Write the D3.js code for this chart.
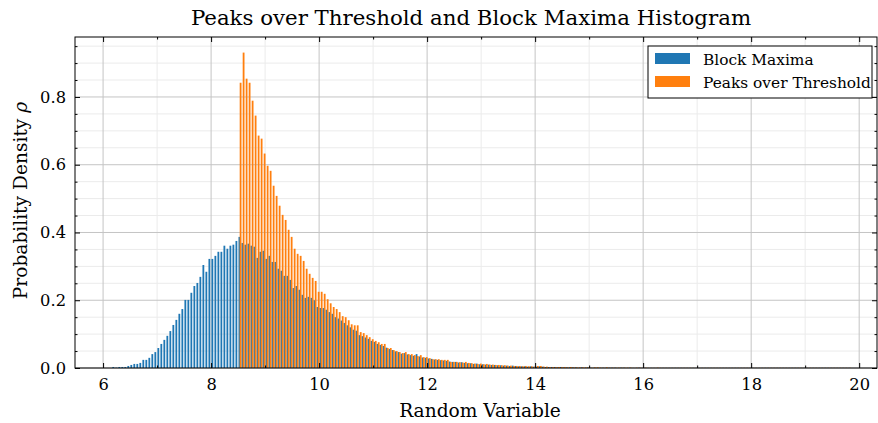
<!doctype html>
<html lang="en">
<head>
  <meta charset="utf-8">
  <title>Peaks over Threshold and Block Maxima Histogram</title>
  <script src="https://cdnjs.cloudflare.com/ajax/libs/d3/7.8.5/d3.min.js"></script>
  <style>
    body { margin: 0; background: #fff; }
    text { font-family: "DejaVu Serif", serif; fill: #000; }
  </style>
</head>
<body>
  <div id="my_dataviz"></div>
  <script>

// shared histogram bins
var binStart = 6.172, binWidth = 0.0556;
var potFirstBin = 42;

// block maxima densities, one per bin starting at binStart
var blockMaxima = [
  0.003, 0.001, 0.003, 0.003, 0.003, 0.006, 0.009, 0.012, 0.012, 0.015,
  0.024, 0.024, 0.030, 0.041, 0.047, 0.059, 0.071, 0.083, 0.095, 0.109,
  0.127, 0.142, 0.160, 0.174, 0.201, 0.201, 0.222, 0.242, 0.251, 0.269,
  0.304, 0.284, 0.322, 0.322, 0.331, 0.343, 0.343, 0.361, 0.352, 0.361,
  0.364, 0.375, 0.387,
  0.369, 0.364, 0.367, 0.361, 0.358, 0.325, 0.343, 0.346, 0.322, 0.331,
  0.313, 0.313, 0.293, 0.287, 0.272, 0.272, 0.260, 0.236, 0.242, 0.231,
  0.216, 0.207, 0.210, 0.207, 0.200, 0.180, 0.177, 0.177,
  0.172, 0.165, 0.160, 0.150, 0.146, 0.140, 0.133, 0.126, 0.120, 0.113,
  0.110, 0.097, 0.094, 0.090, 0.086, 0.080, 0.077, 0.071, 0.068, 0.065,
  0.060, 0.056, 0.053, 0.049, 0.047, 0.042, 0.044, 0.040, 0.038, 0.036,
  0.041, 0.034, 0.031, 0.030, 0.028, 0.027, 0.025, 0.024, 0.023, 0.022,
  0.021, 0.019, 0.018, 0.018,
  0.016, 0.017, 0.015, 0.014, 0.014, 0.012, 0.013, 0.011, 0.011, 0.010, 0.010,
  0.009, 0.009, 0.008, 0.008, 0.007, 0.007, 0.006, 0.007, 0.006, 0.005, 0.005, 0.005, 0.004, 0.005,
  0.004, 0.004, 0.005, 0.004, 0.003, 0.003, 0.003, 0.003, 0.002, 0.003,
  0.002, 0.002, 0.002, 0.002, 0.002, 0.001, 0.002, 0.001, 0.002, 0.001,
  0.001, 0.001, 0.001, 0.001, 0.001, 0.001, 0.001, 0.001, 0.0005, 0.001,
  0.001, 0.0005, 0.001, 0.0005, 0.0005, 0.001, 0.0005, 0.0005, 0.0005, 0.0005,
  0.0005, 0.0005, 0.0005, 0.0005, 0.0005, 0.0005, 0.0005, 0.0005, 0.0005, 0.0005,
  0.0005, 0.0005, 0.0005, 0.0005, 0.0005, 0.0005, 0.0005, 0.0005, 0.0005, 0.0005,
  0.0005, 0.0005, 0.0005, 0.0005, 0.0005, 0.0005, 0.0005, 0.0005, 0.0005, 0.0005,
  0.0005, 0.0005, 0.0005, 0.0005, 0.0005, 0.0005, 0.0005, 0.0005, 0.0005, 0.0005,
  0.0005, 0.0005, 0.0005, 0.0005, 0.0005, 0.0005, 0.0005, 0.0005, 0.0005, 0.0005,
  0.0005, 0.0005, 0.0005, 0.0005, 0.0005, 0.0005, 0.0005, 0.0005, 0.0005, 0.0005,
  0.0005, 0.0005, 0.0005, 0.0005, 0.0005, 0.0005
];

// peaks over threshold densities, one per bin starting at potFirstBin
var peaksOverThreshold = [
  0.842, 0.931, 0.854, 0.842, 0.789, 0.745, 0.686, 0.677, 0.633, 0.597,
  0.582, 0.538, 0.508, 0.479, 0.452, 0.437, 0.408, 0.387, 0.352, 0.337,
  0.331, 0.316, 0.293, 0.278, 0.266, 0.257, 0.225, 0.225, 0.219,
  0.203, 0.191, 0.180, 0.174, 0.165, 0.153, 0.150, 0.141, 0.129, 0.126,
  0.126, 0.106, 0.103, 0.097, 0.091, 0.085, 0.080, 0.076, 0.071, 0.071,
  0.059, 0.059, 0.053, 0.050, 0.047, 0.044, 0.047, 0.041, 0.041, 0.038,
  0.035, 0.038, 0.032, 0.032, 0.029, 0.026, 0.026, 0.026, 0.024, 0.024,
  0.024, 0.018, 0.018, 0.018,
  0.017, 0.016, 0.018, 0.015, 0.014, 0.013, 0.012, 0.013, 0.011, 0.012, 0.010,
  0.010, 0.009, 0.009, 0.008, 0.008, 0.007, 0.007, 0.006, 0.006, 0.006, 0.005, 0.006, 0.005, 0.005,
  0.004, 0.006, 0.006, 0.004, 0.004, 0.003, 0.003, 0.003, 0.003, 0.003,
  0.003, 0.002, 0.003, 0.002, 0.002, 0.002, 0.002, 0.002, 0.002, 0.001,
  0.002, 0.002, 0.001, 0.001, 0.002, 0.001, 0.001, 0.001, 0.001, 0.001,
  0.001, 0.001, 0.001, 0.0005, 0.001, 0.001, 0.0005, 0.001, 0.0005, 0.0005,
  0.0005, 0.001, 0.0005, 0.0005, 0.0005, 0.0005, 0.0005, 0.0005, 0.0005, 0.0005,
  0.0005, 0.0005, 0.0005, 0.0005, 0.0005, 0.0005, 0.0005, 0.0005, 0.0005, 0.0005,
  0.0005, 0.0005, 0.0005, 0.0005, 0.0005, 0.0005, 0.0005, 0.0005, 0.0005, 0.0005,
  0.0005, 0.0005, 0.0005, 0.0005, 0.0005, 0.0005, 0.0005, 0.0005, 0.0005, 0.0005,
  0.0005, 0.0005, 0.0005, 0.0005, 0.0005, 0.0005, 0.0005, 0.0005, 0.0005, 0.0005,
  0.0005, 0.0005, 0.0005, 0.0005, 0.0005, 0.0005, 0.0005, 0.0005, 0.0005, 0.0005,
  0.0005, 0.0005, 0.0005, 0.0005, 0.0005, 0.0005
];

var seriesNames = ["Block Maxima", "Peaks over Threshold"];
var seriesColors = ["#1f77b4", "#ff7f0e"];

var xTicks = [6, 8, 10, 12, 14, 16, 18, 20];
var xMinorTicks = [7, 9, 11, 13, 15, 17, 19];
var yTicks = [0, 0.2, 0.4, 0.6, 0.8];
var yTickLabels = ["0.0", "0.2", "0.4", "0.6", "0.8"];
var yMinorTicks = [0.05, 0.1, 0.15, 0.25, 0.3, 0.35, 0.45, 0.5, 0.55, 0.65, 0.7, 0.75, 0.85, 0.9, 0.95];

// set the dimensions and margins of the graph
var W = 878, H = 423;
var margin = {top: 37, right: 1, bottom: 55, left: 75},
    width = W - margin.left - margin.right,
    height = H - margin.top - margin.bottom;

var svg0 = d3.select("#my_dataviz")
  .append("svg")
    .attr("width", W)
    .attr("height", H);

var svg = svg0.append("g")
    .attr("transform", "translate(" + margin.left + "," + margin.top + ")");

var x = d3.scaleLinear().domain([5.48, 20.33]).range([0, width]);
var y = d3.scaleLinear().domain([0, 0.977]).range([height, 0]);

// grid
svg.append("g").selectAll("line")
  .data(xMinorTicks).enter().append("line")
    .attr("x1", d => x(d)).attr("x2", d => x(d))
    .attr("y1", 0).attr("y2", height)
    .attr("stroke", "#ebebeb").attr("stroke-width", 1);
svg.append("g").selectAll("line")
  .data(yMinorTicks).enter().append("line")
    .attr("x1", 0).attr("x2", width)
    .attr("y1", d => y(d)).attr("y2", d => y(d))
    .attr("stroke", "#ebebeb").attr("stroke-width", 1);
svg.append("g").selectAll("line")
  .data(xTicks).enter().append("line")
    .attr("x1", d => x(d)).attr("x2", d => x(d))
    .attr("y1", 0).attr("y2", height)
    .attr("stroke", "#c4c4c4").attr("stroke-width", 1);
svg.append("g").selectAll("line")
  .data(yTicks).enter().append("line")
    .attr("x1", 0).attr("x2", width)
    .attr("y1", d => y(d)).attr("y2", d => y(d))
    .attr("stroke", "#c4c4c4").attr("stroke-width", 1);

// bars: the two datasets sit side by side in each bin,
// blue centred at 0.3 of the bin and orange at 0.7 (drawn a bit wide so they read solid)
function drawBars(values, firstBin, centre, color) {
  svg.append("g").selectAll("rect")
    .data(values).enter().append("rect")
      .attr("x", function(d, i) { return x(binStart + (firstBin + i + centre - 0.3) * binWidth); })
      .attr("width", x(binStart + 0.6 * binWidth) - x(binStart))
      .attr("y", d => y(d))
      .attr("height", d => height - y(d))
      .attr("fill", color);
}
drawBars(blockMaxima, 0, 0.3, seriesColors[0]);
drawBars(peaksOverThreshold, potFirstBin, 0.7, seriesColors[1]);

// axes with inward ticks on all sides
function styleAxis(g) {
  g.select(".domain").remove();
  g.selectAll("line").attr("stroke", "#000").attr("stroke-width", 1);
  g.selectAll("text").style("font-family", "DejaVu Serif").style("font-size", "16.3px");
}
svg.append("g")
  .attr("transform", "translate(0," + height + ")")
  .call(d3.axisBottom(x).tickValues(xTicks).tickSize(-5).tickPadding(10).tickFormat(d3.format("d")))
  .call(styleAxis);
svg.append("g")
  .attr("transform", "translate(0," + height + ")")
  .call(d3.axisBottom(x).tickValues(xMinorTicks).tickSize(-2.5).tickFormat(""))
  .call(styleAxis);
svg.append("g")
  .call(d3.axisTop(x).tickValues(xTicks).tickSize(-5).tickFormat(""))
  .call(styleAxis);
svg.append("g")
  .call(d3.axisTop(x).tickValues(xMinorTicks).tickSize(-2.5).tickFormat(""))
  .call(styleAxis);
svg.append("g")
  .call(d3.axisLeft(y).tickValues(yTicks).tickSize(-5).tickPadding(9).tickFormat((d, i) => yTickLabels[i]))
  .call(styleAxis);
svg.append("g")
  .call(d3.axisLeft(y).tickValues(yMinorTicks).tickSize(-2.5).tickFormat(""))
  .call(styleAxis);
svg.append("g")
  .attr("transform", "translate(" + width + ",0)")
  .call(d3.axisRight(y).tickValues(yTicks).tickSize(-5).tickFormat(""))
  .call(styleAxis);
svg.append("g")
  .attr("transform", "translate(" + width + ",0)")
  .call(d3.axisRight(y).tickValues(yMinorTicks).tickSize(-2.5).tickFormat(""))
  .call(styleAxis);

// frame
svg.append("rect")
  .attr("x", 0).attr("y", 0).attr("width", width).attr("height", height)
  .attr("fill", "none").attr("stroke", "#000").attr("stroke-width", 1);

// legend
var legend = svg.append("g").attr("transform", "translate(" + (648 - margin.left) + "," + (46 - margin.top) + ")");
legend.append("rect")
  .attr("x", 0).attr("y", 0).attr("width", 224).attr("height", 52)
  .attr("fill", "#fff").attr("stroke", "#000").attr("stroke-width", 1);
seriesNames.forEach(function(name, i) {
  legend.append("rect")
    .attr("x", 7).attr("y", 7 + i * 23).attr("width", 35).attr("height", 11)
    .attr("fill", seriesColors[i]);
  legend.append("text")
    .attr("x", 55).attr("y", 18.5 + i * 23)
    .style("font-size", "15.4px")
    .text(name);
});

// title and labels
svg0.append("text")
  .attr("x", 471).attr("y", 25)
  .attr("text-anchor", "middle")
  .style("font-size", "21.3px")
  .text("Peaks over Threshold and Block Maxima Histogram");
svg0.append("text")
  .attr("x", 480).attr("y", 417)
  .attr("text-anchor", "middle")
  .style("font-size", "18.6px")
  .text("Random Variable");
var ylab = svg0.append("text")
  .attr("transform", "translate(27," + (margin.top + height / 2 - 2) + ") rotate(-90)")
  .attr("text-anchor", "middle")
  .style("font-size", "18.6px");
ylab.append("tspan").text("Probability Density ");
ylab.append("tspan").style("font-style", "italic").text("\u03c1");

</script>
</body>
</html>
